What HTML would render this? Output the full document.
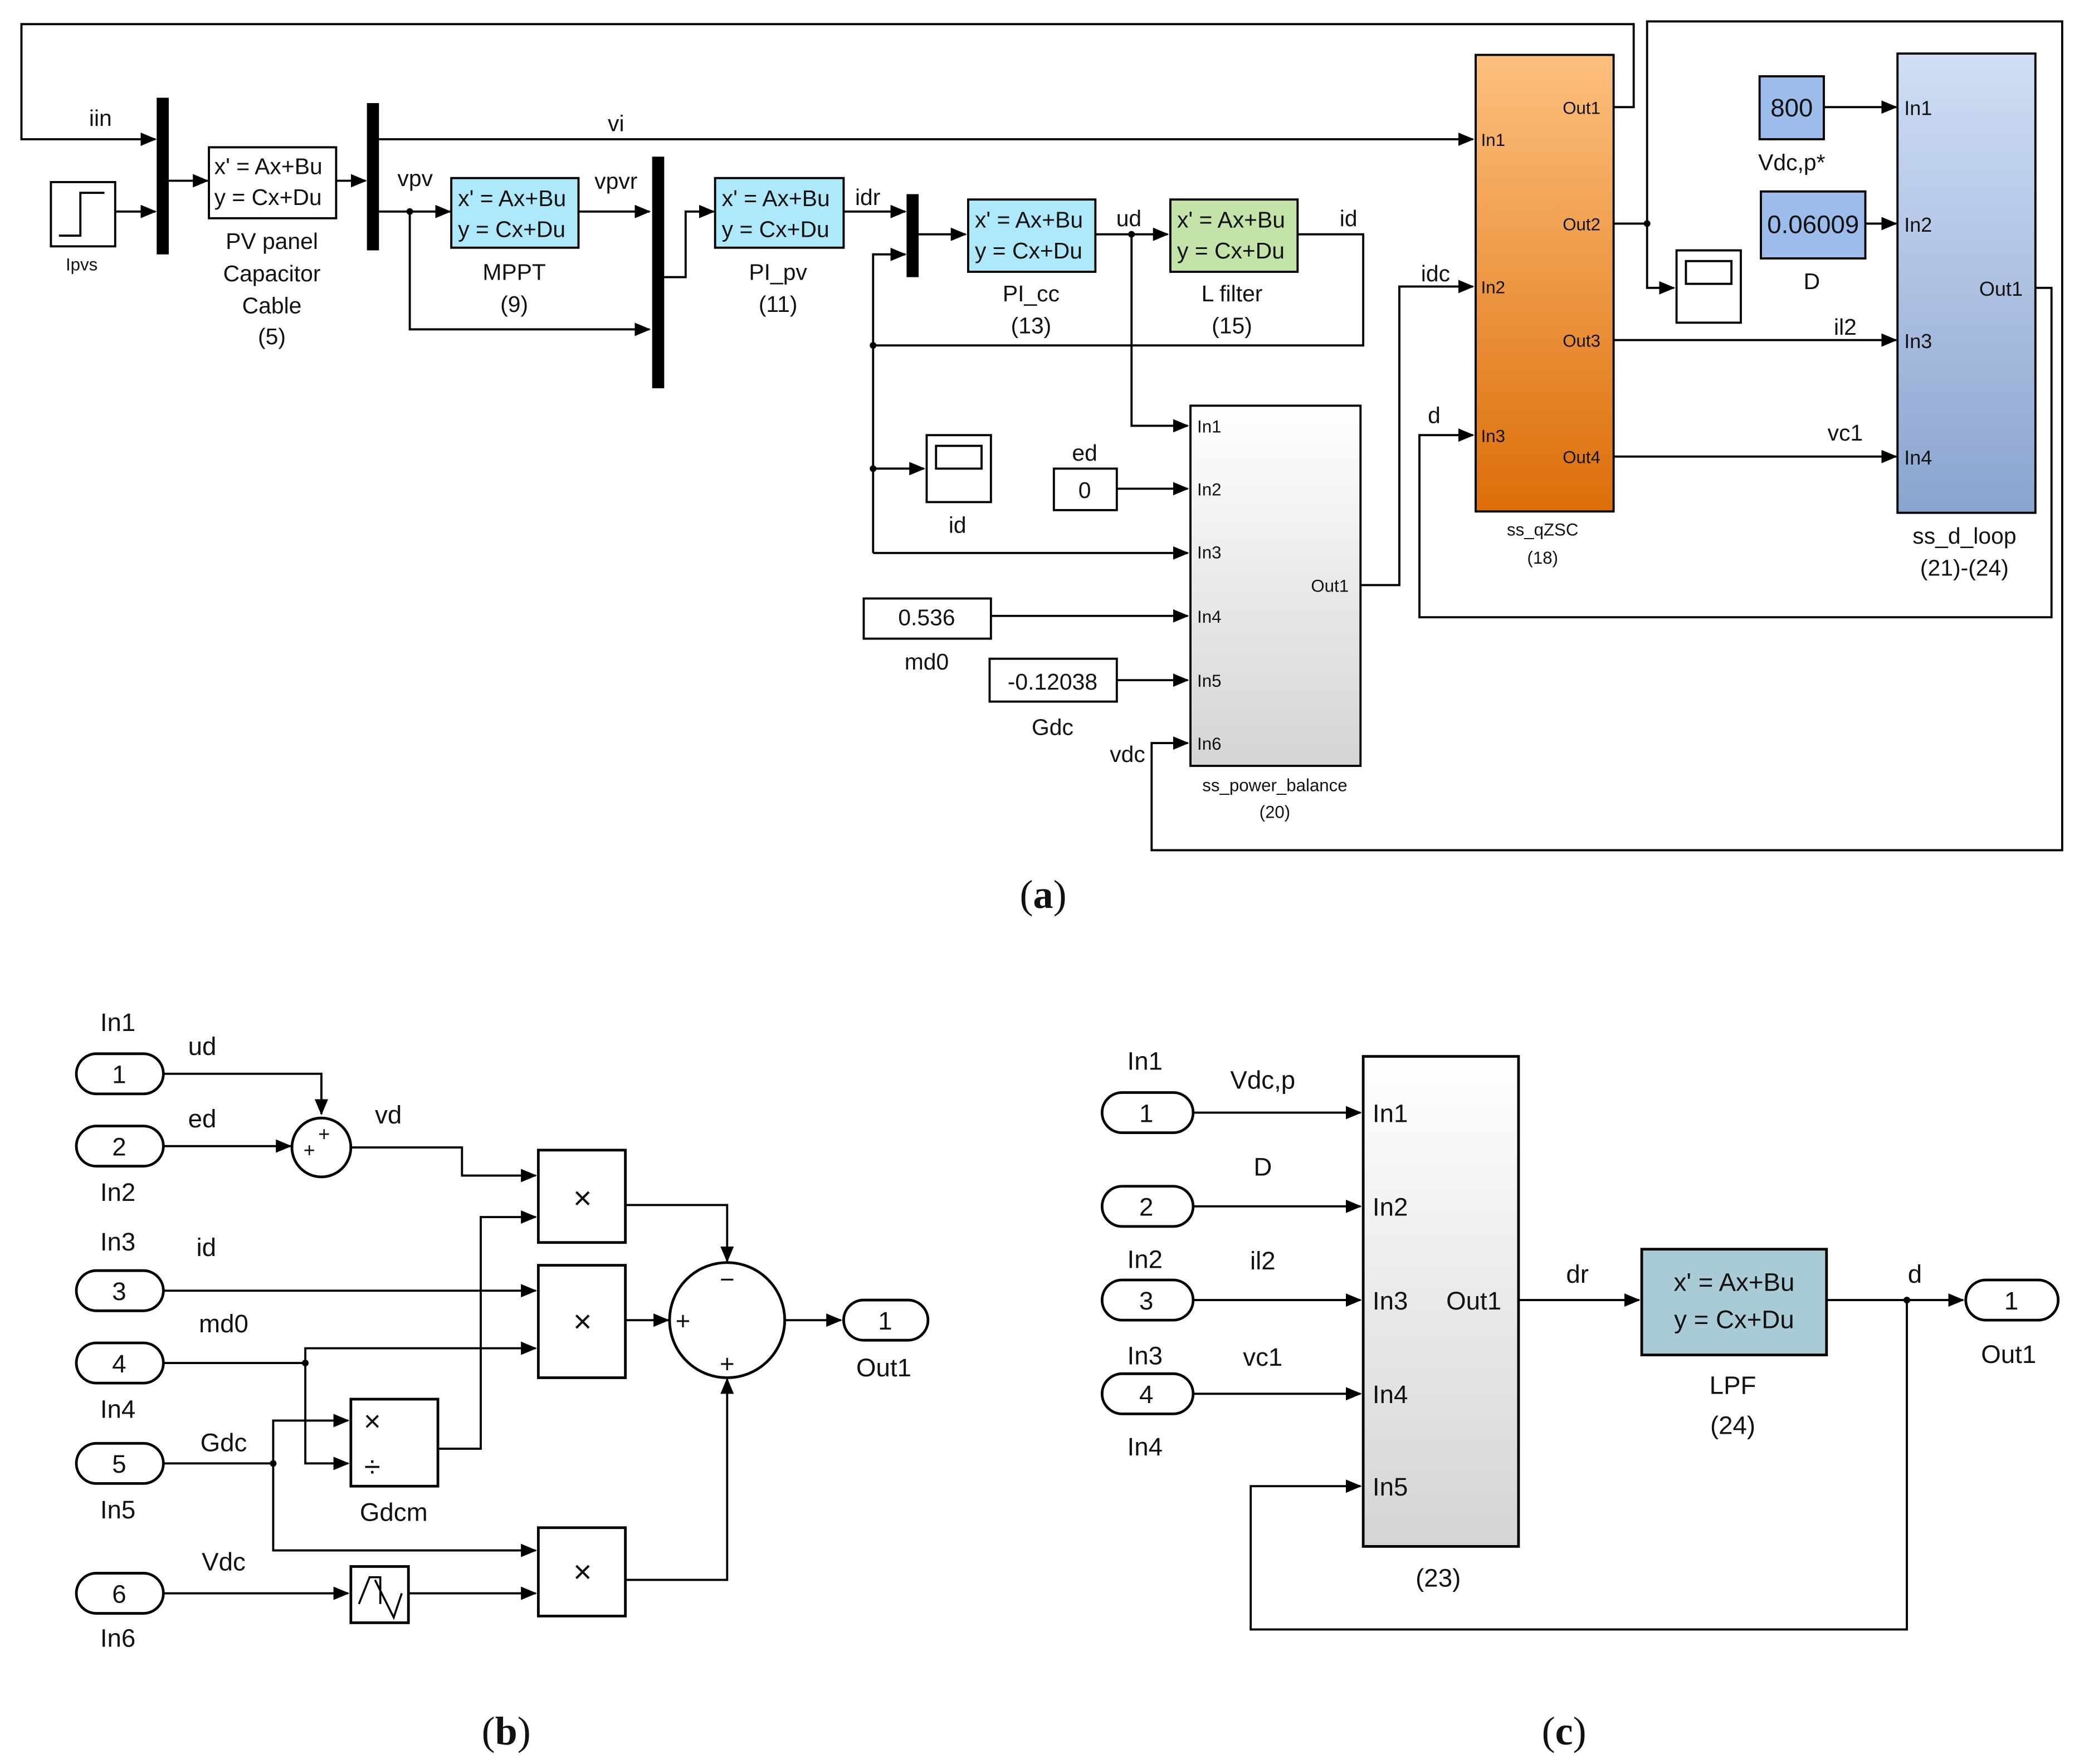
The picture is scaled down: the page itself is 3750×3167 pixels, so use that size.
<!DOCTYPE html>
<html><head><meta charset="utf-8"><style>
html,body{margin:0;padding:0;background:#fff;}
svg{display:block;}
text{font-family:"Liberation Sans",sans-serif;fill:#111;}
.s{font-size:13px;}
.m{font-size:17px;}
.l{font-size:19px;}
.cap{font-family:"Liberation Serif",serif;font-size:30px;}
</style></head><body>
<svg width="3750" height="3167" viewBox="0 0 1560 1317.5" xmlns="http://www.w3.org/2000/svg">
<defs>
<marker id="a" markerWidth="12" markerHeight="10" refX="11" refY="5" orient="auto" markerUnits="userSpaceOnUse"><path d="M0,0 L12,5 L0,10 z" fill="#000"/></marker>
<linearGradient id="og" x1="0" y1="0" x2="0" y2="1"><stop offset="0" stop-color="#fdc07e"/><stop offset="1" stop-color="#dc6e08"/></linearGradient>
<linearGradient id="bg" x1="0" y1="0" x2="0" y2="1"><stop offset="0" stop-color="#d0def5"/><stop offset="1" stop-color="#8aa4cf"/></linearGradient>
<linearGradient id="gg" x1="0" y1="0" x2="0" y2="1"><stop offset="0" stop-color="#ffffff"/><stop offset="1" stop-color="#d4d4d4"/></linearGradient>
</defs>
<g fill="none" stroke="#000" stroke-width="1.6">
<!-- (a) wires -->
<path d="M1205,80 H1220 V18 H16 V104 H116" marker-end="url(#a)"/>
<path d="M86,158 H116" marker-end="url(#a)"/>
<path d="M125,135 H155" marker-end="url(#a)"/>
<path d="M251,135 H273" marker-end="url(#a)"/>
<path d="M283,104 H1100" marker-end="url(#a)"/>
<path d="M283,158 H336" marker-end="url(#a)"/>
<path d="M306,158 V246 H485" marker-end="url(#a)"/>
<path d="M432,158 H485" marker-end="url(#a)"/>
<path d="M496,207 H512 V158 H533" marker-end="url(#a)"/>
<path d="M630,158 H676" marker-end="url(#a)"/>
<path d="M652,413 V190 H676" marker-end="url(#a)"/>
<path d="M686,175 H721" marker-end="url(#a)"/>
<path d="M818,175 H872" marker-end="url(#a)"/>
<path d="M845,175 V318 H887" marker-end="url(#a)"/>
<path d="M969,175 H1018 V258 H652"/>
<path d="M652,350 H690" marker-end="url(#a)"/>
<path d="M834,365 H887" marker-end="url(#a)"/>
<path d="M652,413 H887" marker-end="url(#a)"/>
<path d="M740,460 H887" marker-end="url(#a)"/>
<path d="M834,508 H887" marker-end="url(#a)"/>
<path d="M1205,167 H1230 V16 H1540 V635 H860 V555 H887" marker-end="url(#a)"/>
<path d="M1230,167 V215 H1250" marker-end="url(#a)"/>
<path d="M1016,437 H1045 V214 H1100" marker-end="url(#a)"/>
<path d="M1520,215 H1532 V461 H1060 V325 H1100" marker-end="url(#a)"/>
<path d="M1205,254 H1416" marker-end="url(#a)"/>
<path d="M1205,341 H1416" marker-end="url(#a)"/>
<path d="M1362,80 H1416" marker-end="url(#a)"/>
<path d="M1393,167 H1416" marker-end="url(#a)"/>
</g>
<g fill="#000">
<circle cx="306" cy="158" r="2.5"/><circle cx="652" cy="258" r="2.5"/><circle cx="652" cy="350" r="2.5"/><circle cx="845" cy="175" r="2.5"/><circle cx="1230" cy="167" r="2.5"/>
<rect x="117" y="73" width="9" height="117"/><rect x="274" y="77" width="9" height="110"/><rect x="487" y="117" width="9" height="173"/><rect x="677" y="145" width="9" height="62"/>
</g>
<g stroke="#000" stroke-width="1.6">
<rect x="38" y="136" width="48" height="48" fill="#fff"/>
<path d="M44,176 H60 V144 H78" fill="none"/>
<rect x="156" y="110" width="95" height="53" fill="#fff"/>
<rect x="337" y="133" width="95" height="52" fill="#aee8fb"/>
<rect x="534" y="133" width="96" height="52" fill="#aee8fb"/>
<rect x="723" y="149" width="95" height="54" fill="#aee8fb"/>
<rect x="874" y="149" width="95" height="54" fill="#c4e3a8"/>
<rect x="692" y="325" width="48" height="50" fill="#fff"/><rect x="699" y="333" width="34" height="17" fill="#fff"/>
<rect x="1252" y="187" width="48" height="54" fill="#fff"/><rect x="1259" y="195" width="34" height="17" fill="#fff"/>
<rect x="787" y="350" width="47" height="31" fill="#fff"/>
<rect x="645" y="447" width="95" height="30" fill="#fff"/>
<rect x="739" y="492" width="95" height="32" fill="#fff"/>
<rect x="889" y="303" width="127" height="269" fill="url(#gg)"/>
<rect x="1102" y="41" width="103" height="341" fill="url(#og)"/>
<rect x="1417" y="40" width="103" height="343" fill="url(#bg)"/>
<rect x="1314" y="57" width="48" height="47" fill="#9cbcec"/>
<rect x="1315" y="143" width="78" height="50" fill="#9cbcec"/>
</g>
<g class="m">
<text x="160" y="130">x' = Ax+Bu</text><text x="160" y="153">y = Cx+Du</text>
<text x="342" y="154">x' = Ax+Bu</text><text x="342" y="177">y = Cx+Du</text>
<text x="539" y="154">x' = Ax+Bu</text><text x="539" y="177">y = Cx+Du</text>
<text x="728" y="170">x' = Ax+Bu</text><text x="728" y="193">y = Cx+Du</text>
<text x="879" y="170">x' = Ax+Bu</text><text x="879" y="193">y = Cx+Du</text>
</g>
<g class="m" text-anchor="middle">
<text x="75" y="94">iin</text><text x="460" y="98">vi</text><text x="310" y="139">vpv</text><text x="460" y="141">vpvr</text><text x="648" y="153">idr</text>
<text x="843" y="169">ud</text><text x="1007" y="169">id</text>
<text x="203" y="186">PV panel</text><text x="203" y="210">Capacitor</text><text x="203" y="234">Cable</text><text x="203" y="257">(5)</text>
<text x="384" y="209">MPPT</text><text x="384" y="233">(9)</text>
<text x="581" y="209">PI_pv</text><text x="581" y="233">(11)</text>
<text x="770" y="225">PI_cc</text><text x="770" y="249">(13)</text>
<text x="920" y="225">L filter</text><text x="920" y="249">(15)</text>
<text x="715" y="398">id</text><text x="810" y="344">ed</text><text x="810" y="372">0</text>
<text x="692" y="467">0.536</text><text x="692" y="500">md0</text>
<text x="786" y="515">-0.12038</text><text x="786" y="549">Gdc</text><text x="842" y="569">vdc</text>
<text x="1072" y="210">idc</text><text x="1071" y="316">d</text>
<text x="1378" y="250">il2</text><text x="1378" y="329">vc1</text>
<text x="1338" y="87" style="font-size:19px">800</text><text x="1338" y="127">Vdc,p*</text>
<text x="1354" y="174" style="font-size:19px">0.06009</text><text x="1353" y="216">D</text>
<text x="1467" y="406">ss_d_loop</text><text x="1467" y="430">(21)-(24)</text>
</g>
<g class="s" text-anchor="middle">
<text x="61" y="202">Ipvs</text>
<text x="952" y="591">ss_power_balance</text><text x="952" y="611">(20)</text>
<text x="1152" y="400">ss_qZSC</text><text x="1152" y="421">(18)</text>
</g>
<g class="s">
<text x="894" y="323">In1</text><text x="894" y="370">In2</text><text x="894" y="417">In3</text><text x="894" y="465">In4</text><text x="894" y="513">In5</text><text x="894" y="560">In6</text>
<text x="979" y="442">Out1</text>
<text x="1106" y="109">In1</text><text x="1106" y="219">In2</text><text x="1106" y="330">In3</text>
<text x="1167" y="85">Out1</text><text x="1167" y="172">Out2</text><text x="1167" y="259">Out3</text><text x="1167" y="346">Out4</text>
</g>
<g style="font-size:15px">
<text x="1422" y="86">In1</text><text x="1422" y="173">In2</text><text x="1422" y="260">In3</text><text x="1422" y="347">In4</text><text x="1478" y="221">Out1</text>
</g>
<text class="cap" x="779" y="678" text-anchor="middle">(<tspan font-weight="bold">a</tspan>)</text>

<!-- (b) -->
<g fill="none" stroke="#000" stroke-width="1.6">
<path d="M122,802 H240 V832" marker-end="url(#a)"/>
<path d="M122,856 H217" marker-end="url(#a)"/>
<path d="M262,857 H345 V878 H400" marker-end="url(#a)"/>
<path d="M122,964 H400" marker-end="url(#a)"/>
<path d="M122,1018 H228 V1007 H400" marker-end="url(#a)"/>
<path d="M228,1018 V1093 H260" marker-end="url(#a)"/>
<path d="M122,1093 H204 V1061 H260" marker-end="url(#a)"/>
<path d="M204,1093 V1158 H400" marker-end="url(#a)"/>
<path d="M327,1082 H359 V909 H400" marker-end="url(#a)"/>
<path d="M122,1190 H260" marker-end="url(#a)"/>
<path d="M305,1190 H400" marker-end="url(#a)"/>
<path d="M467,900 H543 V942" marker-end="url(#a)"/>
<path d="M467,986 H499" marker-end="url(#a)"/>
<path d="M467,1180 H543 V1030" marker-end="url(#a)"/>
<path d="M586,986 H628" marker-end="url(#a)"/>
</g>
<g fill="#000"><circle cx="228" cy="1018" r="2.5"/><circle cx="204" cy="1093" r="2.5"/></g>
<g stroke="#000" stroke-width="2" fill="#fff">
<rect x="57" y="787" width="65" height="30" rx="15"/><rect x="57" y="841" width="65" height="30" rx="15"/>
<rect x="57" y="949" width="65" height="30" rx="15"/><rect x="57" y="1003" width="65" height="30" rx="15"/>
<rect x="57" y="1078" width="65" height="30" rx="15"/><rect x="57" y="1175" width="65" height="30" rx="15"/>
<rect x="630" y="971" width="63" height="30" rx="15"/>
<circle cx="240" cy="857" r="22"/><circle cx="543" cy="986" r="43"/>
<rect x="402" y="859" width="65" height="69"/><rect x="402" y="945" width="65" height="84"/><rect x="402" y="1141" width="65" height="66"/>
<rect x="262" y="1045" width="65" height="65"/><rect x="262" y="1170" width="43" height="42"/>
</g>
<path d="M268,1198 L276,1178 L284,1178 L284,1198 M280,1180 L294,1208 L300,1190" fill="none" stroke="#000" stroke-width="1.5"/>
<g class="l" text-anchor="middle">
<text x="89" y="809">1</text><text x="89" y="863">2</text><text x="89" y="971">3</text><text x="89" y="1025">4</text><text x="89" y="1100">5</text><text x="89" y="1197">6</text>
<text x="661" y="993">1</text><text x="660" y="1028">Out1</text>
<text x="88" y="770">In1</text><text x="88" y="897">In2</text><text x="88" y="934">In3</text><text x="88" y="1059">In4</text><text x="88" y="1134">In5</text><text x="88" y="1230">In6</text>
<text x="151" y="788">ud</text><text x="151" y="842">ed</text><text x="290" y="839">vd</text><text x="154" y="938">id</text><text x="167" y="995">md0</text><text x="167" y="1084">Gdc</text><text x="167" y="1173">Vdc</text><text x="294" y="1136">Gdcm</text>
<text x="435" y="903" style="font-size:24px">×</text><text x="435" y="995" style="font-size:24px">×</text><text x="435" y="1182" style="font-size:24px">×</text>
<text x="278" y="1069" style="font-size:22px">×</text><text x="278" y="1103" style="font-size:22px">÷</text>
<text x="543" y="962">−</text><text x="510" y="993">+</text><text x="543" y="1025">+</text>
<text x="231" y="864" style="font-size:15px">+</text><text x="242" y="852" style="font-size:15px">+</text>
</g>
<text class="cap" x="378" y="1303" text-anchor="middle">(<tspan font-weight="bold">b</tspan>)</text>

<!-- (c) -->
<g fill="none" stroke="#000" stroke-width="1.6">
<path d="M891,831 H1016" marker-end="url(#a)"/>
<path d="M891,901 H1016" marker-end="url(#a)"/>
<path d="M891,971 H1016" marker-end="url(#a)"/>
<path d="M891,1041 H1016" marker-end="url(#a)"/>
<path d="M1134,971 H1224" marker-end="url(#a)"/>
<path d="M1364,971 H1466" marker-end="url(#a)"/>
<path d="M1424,971 V1217 H934 V1110 H1016" marker-end="url(#a)"/>
</g>
<circle cx="1424" cy="971" r="2.5" fill="#000"/>
<g stroke="#000" stroke-width="2">
<rect x="823" y="816" width="68" height="30" rx="15" fill="#fff"/><rect x="823" y="886" width="68" height="30" rx="15" fill="#fff"/>
<rect x="823" y="956" width="68" height="30" rx="15" fill="#fff"/><rect x="823" y="1026" width="68" height="30" rx="15" fill="#fff"/>
<rect x="1468" y="956" width="69" height="30" rx="15" fill="#fff"/>
<rect x="1018" y="789" width="116" height="366" fill="url(#gg)"/>
<rect x="1226" y="933" width="138" height="79" fill="#a9cbd6"/>
</g>
<g class="l" text-anchor="middle">
<text x="856" y="838">1</text><text x="856" y="908">2</text><text x="856" y="978">3</text><text x="856" y="1048">4</text>
<text x="1502" y="978">1</text><text x="1500" y="1018">Out1</text>
<text x="855" y="799">In1</text><text x="855" y="947">In2</text><text x="855" y="1019">In3</text><text x="855" y="1087">In4</text>
<text x="943" y="813">Vdc,p</text><text x="943" y="878">D</text><text x="943" y="948">il2</text><text x="943" y="1020">vc1</text>
<text x="1178" y="958">dr</text><text x="1430" y="958">d</text>
<text x="1295" y="964">x' = Ax+Bu</text><text x="1295" y="992">y = Cx+Du</text>
<text x="1294" y="1041">LPF</text><text x="1294" y="1071">(24)</text><text x="1074" y="1185">(23)</text>
</g>
<g class="l">
<text x="1025" y="838">In1</text><text x="1025" y="908">In2</text><text x="1025" y="978">In3</text><text x="1025" y="1048">In4</text><text x="1025" y="1117">In5</text><text x="1080" y="978">Out1</text>
</g>
<text class="cap" x="1168" y="1303" text-anchor="middle">(<tspan font-weight="bold">c</tspan>)</text>
</svg>
</body></html>
